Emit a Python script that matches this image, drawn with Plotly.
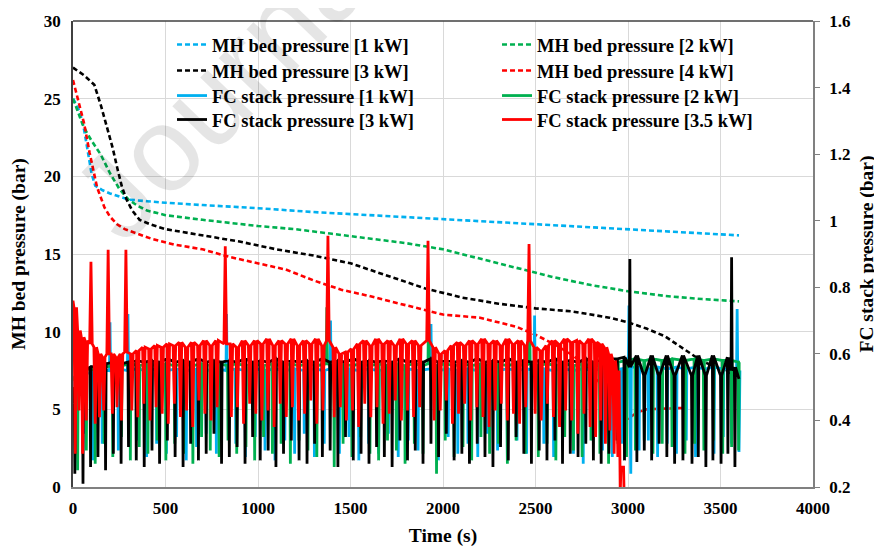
import plotly.graph_objects as go

# ---------------- MH bed pressure (left axis, bar) ----------------
mh1_t = [0, 20, 40, 60, 80, 100, 120, 160, 200, 300, 400, 500, 700, 1000, 1300, 1600, 2000, 2300, 2600, 3000, 3300, 3600]
mh1_v = [25.0, 24.6, 24.0, 23.0, 21.6, 20.2, 19.4, 19.1, 18.9, 18.5, 18.4, 18.3, 18.15, 17.95, 17.7, 17.5, 17.25, 17.05, 16.85, 16.6, 16.4, 16.2]

mh2_t = [0, 25, 50, 75, 100, 150, 200, 250, 300, 350, 400, 500, 700, 1000, 1200, 1400, 1600, 1800, 2000, 2200, 2400, 2600, 2800, 3000, 3200, 3400, 3600]
mh2_v = [25.0, 24.2, 23.4, 22.8, 22.3, 21.4, 20.2, 19.2, 18.5, 18.1, 17.8, 17.5, 17.2, 16.8, 16.6, 16.3, 16.0, 15.7, 15.3, 14.7, 14.1, 13.5, 13.0, 12.6, 12.3, 12.1, 11.95]

mh3_t = [0, 60, 115, 150, 185, 215, 240, 265, 290, 320, 360, 420, 500, 700, 900, 1100, 1300, 1500, 1700, 1900, 2100, 2300, 2500, 2700, 2900, 3000, 3100, 3200, 3300, 3400, 3500, 3600]
mh3_v = [27.0, 26.5, 25.9, 24.6, 23.1, 21.8, 20.5, 19.3, 18.5, 17.8, 17.2, 16.9, 16.6, 16.2, 15.8, 15.3, 14.9, 14.4, 13.6, 12.8, 12.2, 11.8, 11.5, 11.3, 10.9, 10.6, 10.2, 9.7, 8.9, 8.1, 7.6, 7.1]

mh4_t = [0, 30, 60, 90, 130, 170, 200, 240, 280, 350, 420, 550, 700, 850, 1000, 1150, 1300, 1450, 1600, 1800, 2000, 2200, 2400, 2500, 2600, 2700, 2800, 2900, 2950, 3000, 3050, 3100, 3200, 3320]
mh4_v = [26.2, 24.8, 23.4, 21.5, 19.3, 18.0, 17.4, 16.9, 16.6, 16.3, 16.0, 15.6, 15.3, 14.8, 14.4, 14.0, 13.3, 12.7, 12.3, 11.7, 11.1, 10.9, 10.3, 9.8, 9.2, 8.5, 7.5, 5.8, 4.6, 4.4, 4.8, 5.0, 5.05, 5.1]

# ---------------- FC stack pressure (right axis, bar) ----------------
# each purge / spike event: time, extreme value, level just before it
fc1_start_t, fc1_start_v = [0], [0.53]
fc1_end_t, fc1_end_v = [3605], [0.55]
fc1_ev_t = [12, 60, 108, 158, 200, 245, 297, 345, 398, 452,
            505, 560, 612, 668, 720, 775, 830, 880, 932, 985,
            1038, 1092, 1145, 1198, 1250, 1305, 1358, 1392, 1440, 1492,
            1545, 1598, 1652, 1705, 1758, 1812, 1865, 1935, 1975, 2028,
            2080, 2135, 2188, 2240, 2295, 2348, 2400, 2452, 2495, 2545,
            2598, 2650, 2705, 2758, 2810, 2862, 2915, 2965, 3005, 3015,
            3060, 3110, 3160, 3212, 3262, 3315, 3365, 3415, 3465, 3515,
            3560, 3590, 3600]
fc1_ev_lo = [0.30, 0.36, 0.28, 0.33, 0.695, 0.31, 0.72, 0.34, 0.29, 0.33,
             0.30, 0.35, 0.28, 0.32, 0.36, 0.30, 0.72, 0.33, 0.29, 0.35,
             0.31, 0.28, 0.34, 0.30, 0.36, 0.29, 0.33, 0.70, 0.30, 0.35,
             0.28, 0.33, 0.30, 0.36, 0.29, 0.34, 0.31, 0.69, 0.28, 0.35,
             0.30, 0.33, 0.29, 0.36, 0.31, 0.28, 0.34, 0.30, 0.715, 0.33,
             0.29, 0.35, 0.30, 0.27, 0.34, 0.31, 0.29, 0.33, 0.745, 0.24,
             0.31, 0.34, 0.29, 0.33, 0.30, 0.34, 0.29, 0.32, 0.30, 0.35,
             0.33, 0.735, 0.305]
fc1_ev_hi = [0.53, 0.54, 0.545, 0.55, 0.55, 0.555, 0.55, 0.555, 0.55, 0.555,
             0.55, 0.555, 0.55, 0.555, 0.55, 0.555, 0.55, 0.555, 0.55, 0.555,
             0.55, 0.555, 0.55, 0.555, 0.55, 0.555, 0.55, 0.555, 0.55, 0.555,
             0.55, 0.555, 0.55, 0.555, 0.55, 0.555, 0.55, 0.555, 0.55, 0.555,
             0.55, 0.555, 0.55, 0.555, 0.55, 0.555, 0.55, 0.555, 0.55, 0.555,
             0.55, 0.555, 0.55, 0.555, 0.55, 0.555, 0.55, 0.555, 0.56, 0.56,
             0.56, 0.555, 0.56, 0.555, 0.56, 0.555, 0.56, 0.555, 0.56, 0.555,
             0.555, 0.555, 0.55]

fc2_start_t, fc2_start_v = [0], [0.52]
fc2_end_t, fc2_end_v = [3605], [0.575]
fc2_ev_t = [25, 72, 120, 168, 215, 262, 310, 358, 405, 455,
            502, 550, 598, 648, 695, 742, 790, 838, 885, 935,
            982, 1030, 1078, 1125, 1175, 1222, 1270, 1318, 1372, 1412,
            1460, 1508, 1555, 1605, 1652, 1700, 1748, 1795, 1845, 1892,
            1922, 1965, 2012, 2060, 2108, 2155, 2205, 2252, 2300, 2348,
            2395, 2445, 2468, 2515, 2562, 2610, 2658, 2705, 2752, 2800,
            2848, 2895, 2945, 2992, 3040, 3088, 3135, 3185, 3238, 3308,
            3360, 3410, 3462, 3512, 3560, 3598]
fc2_ev_lo = [0.25, 0.31, 0.27, 0.33, 0.29, 0.35, 0.28, 0.32, 0.30, 0.34,
             0.28, 0.33, 0.30, 0.27, 0.35, 0.31, 0.29, 0.34, 0.30, 0.32,
             0.28, 0.35, 0.30, 0.33, 0.27, 0.34, 0.31, 0.29, 0.74, 0.26,
             0.33, 0.29, 0.35, 0.30, 0.28, 0.34, 0.31, 0.27, 0.33, 0.30,
             0.76, 0.24, 0.34, 0.29, 0.32, 0.28, 0.35, 0.30, 0.33, 0.27,
             0.34, 0.30, 0.77, 0.29, 0.33, 0.28, 0.35, 0.31, 0.29, 0.34,
             0.30, 0.27, 0.33, 0.29, 0.31, 0.34, 0.30, 0.33, 0.32, 0.30,
             0.33, 0.31, 0.34, 0.30, 0.32, 0.31]
fc2_ev_hi = [0.54, 0.55, 0.555, 0.56, 0.565, 0.565, 0.57, 0.565, 0.57, 0.565,
             0.57, 0.565, 0.57, 0.565, 0.57, 0.565, 0.57, 0.565, 0.57, 0.565,
             0.57, 0.565, 0.57, 0.565, 0.57, 0.565, 0.57, 0.565, 0.57, 0.565,
             0.57, 0.565, 0.57, 0.565, 0.57, 0.565, 0.57, 0.565, 0.57, 0.565,
             0.57, 0.565, 0.57, 0.565, 0.57, 0.565, 0.57, 0.565, 0.57, 0.565,
             0.57, 0.565, 0.57, 0.565, 0.57, 0.565, 0.57, 0.565, 0.57, 0.565,
             0.57, 0.575, 0.575, 0.58, 0.585, 0.58, 0.585, 0.58, 0.585, 0.58,
             0.585, 0.58, 0.585, 0.58, 0.58, 0.575]

fc3_start_t, fc3_start_v = [0], [0.45]
fc3_end_t, fc3_end_v = [3600], [0.525]
fc3_ev_t = [10, 54, 95, 135, 176, 218, 260, 300, 342, 385,
            427, 468, 510, 552, 595, 636, 678, 720, 762, 803,
            845, 887, 930, 971, 1012, 1055, 1097, 1138, 1180, 1222,
            1265, 1306, 1348, 1390, 1432, 1473, 1515, 1557, 1600, 1641,
            1683, 1725, 1767, 1808, 1850, 1892, 1935, 1976, 2018, 2060,
            2102, 2143, 2185, 2227, 2270, 2311, 2353, 2395, 2437, 2478,
            2520, 2562, 2605, 2646, 2688, 2730, 2772, 2813, 2855, 2897,
            2940, 2981, 3010, 3048, 3088, 3128, 3168, 3210, 3252, 3297,
            3346, 3380, 3421, 3459, 3503, 3540, 3560, 3578]
fc3_ev_lo = [0.24, 0.21, 0.26, 0.29, 0.25, 0.30, 0.27, 0.32, 0.28, 0.26,
             0.31, 0.27, 0.34, 0.29, 0.26, 0.33, 0.28, 0.30, 0.36, 0.27,
             0.29, 0.32, 0.27, 0.35, 0.28, 0.31, 0.26, 0.30, 0.34, 0.28,
             0.27, 0.33, 0.29, 0.31, 0.26, 0.35, 0.28, 0.30, 0.27, 0.32,
             0.29, 0.26, 0.34, 0.28, 0.31, 0.27, 0.33, 0.29, 0.36, 0.28,
             0.30, 0.27, 0.33, 0.29, 0.26, 0.32, 0.28, 0.35, 0.30, 0.27,
             0.31, 0.28, 0.34, 0.27, 0.30, 0.29, 0.33, 0.28, 0.27, 0.30,
             0.34, 0.28, 0.885, 0.275, 0.31, 0.28, 0.33, 0.29, 0.27, 0.28,
             0.27, 0.29, 0.26, 0.28, 0.27, 0.30, 0.89, 0.26]
fc3_ev_hi = [0.50, 0.55, 0.56, 0.565, 0.57, 0.575, 0.57, 0.575, 0.58, 0.575,
             0.58, 0.575, 0.585, 0.575, 0.58, 0.575, 0.585, 0.575, 0.58, 0.575,
             0.58, 0.575, 0.585, 0.575, 0.58, 0.575, 0.585, 0.575, 0.58, 0.575,
             0.58, 0.575, 0.585, 0.575, 0.58, 0.575, 0.585, 0.575, 0.58, 0.575,
             0.58, 0.575, 0.585, 0.575, 0.58, 0.575, 0.585, 0.575, 0.58, 0.575,
             0.58, 0.575, 0.585, 0.575, 0.58, 0.575, 0.585, 0.575, 0.58, 0.575,
             0.58, 0.575, 0.585, 0.575, 0.58, 0.575, 0.585, 0.575, 0.58, 0.585,
             0.585, 0.59, 0.56, 0.595, 0.535, 0.595, 0.535, 0.595, 0.535, 0.595,
             0.535, 0.595, 0.535, 0.595, 0.535, 0.59, 0.55, 0.56]

fc4_start_t, fc4_start_v = [0], [0.76]
fc4_end_t, fc4_end_v = [2958, 2962, 2976, 2980], [0.18, 0.26, 0.26, 0.15]
fc4_ev_t = [12, 32, 52, 72, 97, 120, 143, 166, 190, 213,
            238, 262, 286, 318, 350, 383, 416, 449, 482, 515,
            548, 581, 614, 647, 680, 713, 746, 779, 823, 856,
            889, 922, 955, 988, 1021, 1054, 1087, 1120, 1153, 1186,
            1219, 1252, 1285, 1318, 1351, 1378, 1412, 1445, 1478, 1511,
            1544, 1577, 1610, 1643, 1676, 1709, 1742, 1775, 1808, 1841,
            1874, 1919, 1952, 1985, 2018, 2051, 2084, 2117, 2150, 2183,
            2216, 2249, 2282, 2315, 2348, 2381, 2414, 2447, 2465, 2498,
            2531, 2564, 2597, 2630, 2663, 2696, 2729, 2762, 2795, 2825,
            2852, 2878, 2902, 2925, 2945]
fc4_ev_lo = [0.30, 0.43, 0.30, 0.40, 0.877, 0.39, 0.41, 0.43, 0.913, 0.42,
             0.44, 0.40, 0.913, 0.43, 0.41, 0.45, 0.40, 0.44, 0.42, 0.39,
             0.45, 0.41, 0.43, 0.38, 0.46, 0.42, 0.40, 0.44, 0.923, 0.41,
             0.44, 0.39, 0.45, 0.42, 0.40, 0.43, 0.38, 0.45, 0.41, 0.44,
             0.40, 0.42, 0.46, 0.39, 0.43, 0.955, 0.41, 0.44, 0.40, 0.43,
             0.38, 0.45, 0.41, 0.44, 0.39, 0.42, 0.46, 0.40, 0.43, 0.41,
             0.44, 0.94, 0.40, 0.43, 0.46, 0.39, 0.42, 0.45, 0.40, 0.44,
             0.41, 0.38, 0.43, 0.45, 0.40, 0.42, 0.39, 0.44, 0.93, 0.42,
             0.40, 0.45, 0.41, 0.38, 0.43, 0.40, 0.36, 0.42, 0.38, 0.35,
             0.40, 0.33, 0.37, 0.30, 0.29]
fc4_ev_hi = [0.74, 0.67, 0.65, 0.64, 0.63, 0.62, 0.60, 0.59, 0.60, 0.60,
             0.59, 0.60, 0.605, 0.60, 0.61, 0.62, 0.615, 0.625, 0.62, 0.63,
             0.625, 0.635, 0.62, 0.635, 0.625, 0.64, 0.625, 0.64, 0.63, 0.63,
             0.62, 0.64, 0.625, 0.64, 0.63, 0.645, 0.625, 0.64, 0.63, 0.645,
             0.625, 0.64, 0.63, 0.645, 0.625, 0.64, 0.62, 0.60, 0.605, 0.615,
             0.63, 0.64, 0.625, 0.645, 0.63, 0.64, 0.625, 0.645, 0.63, 0.64,
             0.625, 0.64, 0.62, 0.60, 0.61, 0.625, 0.635, 0.625, 0.64, 0.63,
             0.645, 0.63, 0.64, 0.625, 0.645, 0.63, 0.64, 0.625, 0.64, 0.62,
             0.61, 0.625, 0.64, 0.63, 0.645, 0.635, 0.64, 0.63, 0.645, 0.635,
             0.63, 0.62, 0.60, 0.58, 0.55]

# tick labels
x_ticks = [0, 500, 1000, 1500, 2000, 2500, 3000, 3500, 4000]
y_ticks = [0, 5, 10, 15, 20, 25, 30]
y2_ticks = [0.2, 0.4, 0.6, 0.8, 1, 1.2, 1.4, 1.6]

BLUE, GREEN, BLACK, RED = "#00B0F0", "#00B050", "#000000", "#FF0000"
FONT = "Liberation Serif"


def spike_line(st, sv, ev_t, ev_lo, ev_hi, et, evv, w):
    xs, ys = list(st), list(sv)
    for t, lo, hi in zip(ev_t, ev_lo, ev_hi):
        xs += [t - w, t, t + w]
        ys += [hi, lo, hi]
    xs += list(et)
    ys += list(evv)
    return xs, ys


fig = go.Figure()

# legend rows: each row is its own horizontal legend holding two entries
mh = [
    (mh1_t, mh1_v, BLUE, "MH bed pressure [1 kW]", "legend"),
    (mh2_t, mh2_v, GREEN, "MH bed pressure [2 kW]", "legend"),
    (mh3_t, mh3_v, BLACK, "MH bed pressure [3 kW]", "legend2"),
    (mh4_t, mh4_v, RED, "MH bed pressure [4 kW]", "legend2"),
]
for i, (t, v, c, name, lg) in enumerate(mh):
    fig.add_trace(go.Scatter(x=t, y=v, mode="lines", name=name, legend=lg, legendrank=i,
                             line=dict(color=c, width=2.6, dash="5px,3px")))

fc = [
    (spike_line(fc1_start_t, fc1_start_v, fc1_ev_t, fc1_ev_lo, fc1_ev_hi, fc1_end_t, fc1_end_v, 3), BLUE, "FC stack pressure [1 kW]", "legend3"),
    (spike_line(fc2_start_t, fc2_start_v, fc2_ev_t, fc2_ev_lo, fc2_ev_hi, fc2_end_t, fc2_end_v, 3), GREEN, "FC stack pressure [2 kW]", "legend3"),
    (spike_line(fc3_start_t, fc3_start_v, fc3_ev_t, fc3_ev_lo, fc3_ev_hi, fc3_end_t, fc3_end_v, 3), BLACK, "FC stack pressure [3 kW]", "legend4"),
    (spike_line(fc4_start_t, fc4_start_v, fc4_ev_t, fc4_ev_lo, fc4_ev_hi, fc4_end_t, fc4_end_v, 7), RED, "FC stack pressure [3.5 kW]", "legend4"),
]
for i, ((xs, ys), c, name, lg) in enumerate(fc):
    fig.add_trace(go.Scatter(x=xs, y=ys, mode="lines", name=name, legend=lg, yaxis="y2",
                             legendrank=10 + i, line=dict(color=c, width=2.8)))

legend_common = dict(bgcolor="rgba(0,0,0,0)", borderwidth=0, orientation="h",
                     xanchor="left", yanchor="middle", x=0.1338,
                     entrywidth=280, entrywidthmode="pixels",
                     font=dict(family=FONT, size=18.5, color="black", weight="bold"),
                     itemwidth=30)

# the page body has an 8px margin, so the figure is drawn 8px smaller and the margins reduced
fig.update_layout(
    width=874, height=539,
    margin=dict(l=65, r=69, t=13, b=60, autoexpand=False),
    paper_bgcolor="white", plot_bgcolor="white",
    font=dict(family=FONT, size=17, color="black", weight="bold"),
    showlegend=True,
    legend=dict(y=0.9485, **legend_common),
    legend2=dict(y=0.8927, **legend_common),
    legend3=dict(y=0.839, **legend_common),
    legend4=dict(y=0.7876, **legend_common),
    xaxis=dict(range=[0, 4000], tickvals=x_ticks, showgrid=True, gridcolor="#d9d9d9", gridwidth=1,
               zeroline=False, showline=True, linecolor="#808080", linewidth=1.5, ticks="",
               automargin=False, ticklabelstandoff=5,
               tickfont=dict(family=FONT, size=17, weight="bold"),
               title=dict(text="Time (s)", font=dict(family=FONT, size=19.5, weight="bold"), standoff=18)),
    yaxis=dict(range=[0, 30], tickvals=y_ticks, showgrid=True, gridcolor="#d9d9d9", gridwidth=1,
               zeroline=False, showline=True, linecolor="#404040", linewidth=1.5, ticks="",
               automargin=False, ticklabelstandoff=7,
               tickfont=dict(family=FONT, size=17, weight="bold"),
               title=dict(text="MH bed pressure (bar)", font=dict(family=FONT, size=19.5, weight="bold"), standoff=14)),
    yaxis2=dict(range=[0.2, 1.6], tickvals=y2_ticks, overlaying="y", side="right", showgrid=False,
                zeroline=False, showline=True, linecolor="#808080", linewidth=1.5,
                ticks="outside", ticklen=5, tickcolor="#808080", automargin=False, ticklabelstandoff=6,
                tickfont=dict(family=FONT, size=17, weight="bold"),
                title=dict(text="FC stack pressure (bar)", font=dict(family=FONT, size=19.5, weight="bold"), standoff=9)),
    shapes=[
        dict(type="line", xref="paper", yref="paper", x0=0, x1=1, y0=1, y1=1,
             line=dict(color="#404040", width=1.5)),
    ],
    annotations=[
        # faint publisher watermark
        dict(text="Journal Pre-proof", xref="paper", yref="paper", x=0.464, y=1.295,
             xanchor="center", yanchor="middle", showarrow=False, textangle=-46,
             font=dict(family="Liberation Sans", size=120, color="rgba(0,0,0,0.1)", weight="normal")),
    ],
)

fig.write_html("out.html")
